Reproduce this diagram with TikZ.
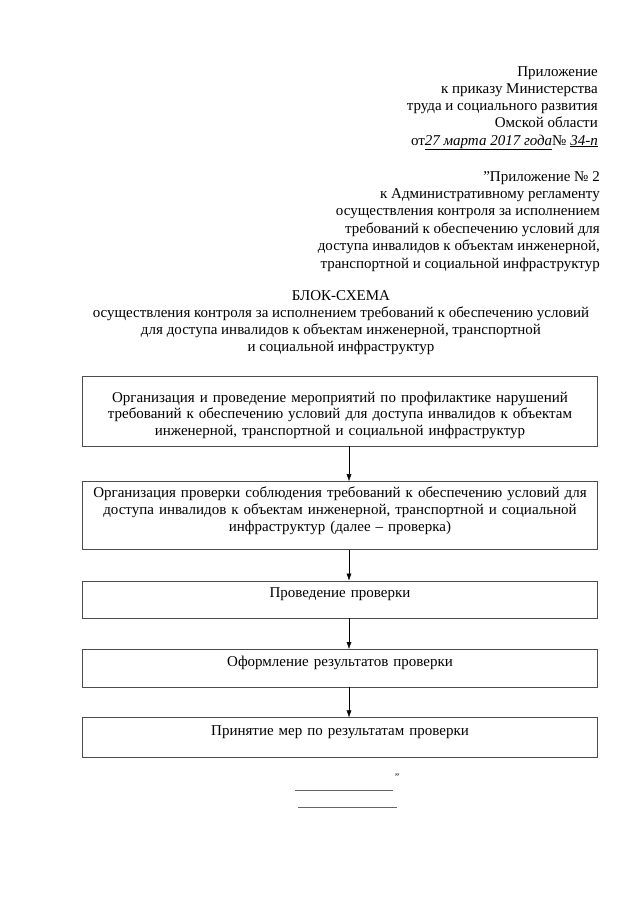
\documentclass[tikz,border=0pt]{standalone}
\usepackage{fontspec}
\setmainfont{Liberation Serif}
\usetikzlibrary{arrows.meta, positioning}
\tikzset{
    >=Latex,
    font=\fontsize{15}{17}\selectfont,
    doc_text/.style={
        inner sep=0pt,
        align=right,
        anchor=base east
    },
    doc_title/.style={
        inner sep=0pt,
        align=center,
        anchor=base
    },
    flow_box/.style={
        rectangle,
        draw=black!70,
        thin,
        minimum width=515pt,
        text width=508pt,
        align=center,
        inner sep=2pt
    },
    flow_box_top/.style={
        flow_box,
        execute at end node={\par\vspace{10pt}}
    },
    flow_arrow/.style={
        -{Latex[length=7pt,width=5pt]},
        thin
    }
}

\begin{document}
\begin{tikzpicture}[x=1pt, y=-1pt]
\useasboundingbox (0,0) rectangle (640,905);

% --- Header ---
\node[doc_text] (Order) at (598,127)
  {Приложение\\
   к приказу Министерства\\
   труда и социального развития\\
   Омской области};
\node[doc_text] (OrderDate) at (598,145)
  {от\textit{\underline{27 марта 2017 года}}№ \textit{\underline{34-п}}};

\node[doc_text, font=\fontsize{15}{17.4}\selectfont] (Annex) at (600,268)
  {"Приложение № 2\\
   к Административному регламенту\\
   осуществления контроля за исполнением\\
   требований к обеспечению условий для\\
   доступа инвалидов к объектам инженерной,\\
   транспортной и социальной инфраструктур};

% --- Title ---
\node[doc_title, font=\fontsize{15}{16.7}\selectfont] (Title) at (341,351)
  {БЛОК-СХЕМА\\
   осуществления контроля за исполнением требований к обеспечению условий\\
   для доступа инвалидов к объектам инженерной, транспортной\\
   и социальной инфраструктур};

% --- Flow ---
\node[flow_box, minimum height=70pt, font=\fontsize{15}{16.5}\selectfont,
      execute at end node={\par\vspace{-8pt}}] (Prevention) at (340,411)
  {Организация и проведение мероприятий по профилактике нарушений\\
   требований к обеспечению условий для доступа инвалидов к объектам\\
   инженерной, транспортной и социальной инфраструктур};
\node[flow_box_top, minimum height=68pt, below=35pt of Prevention] (Organize)
  {Организация проверки соблюдения требований к обеспечению условий для\\
   доступа инвалидов к объектам инженерной, транспортной и социальной\\
   инфраструктур (далее -- проверка)};
\node[flow_box_top, minimum height=37pt, below=31pt of Organize] (Conduct)
  {Проведение проверки};
\node[flow_box_top, minimum height=38pt, below=31pt of Conduct] (Results)
  {Оформление результатов проверки};
\node[flow_box_top, minimum height=40pt, below=30pt of Results] (Measures)
  {Принятие мер по результатам проверки};

\draw[flow_arrow] ([xshift=9pt]Prevention.south) -- ([xshift=9pt]Organize.north);
\draw[flow_arrow] ([xshift=9pt]Organize.south) -- ([xshift=9pt]Conduct.north);
\draw[flow_arrow] ([xshift=9pt]Conduct.south) -- ([xshift=9pt]Results.north);
\draw[flow_arrow] ([xshift=9pt]Results.south) -- ([xshift=9pt]Measures.north);

% --- Closing ---
\node[inner sep=0pt, font=\fontsize{10}{12}\selectfont] (Quote) at (397,777) {"};
\coordinate (SignA) at (295,790);
\coordinate (SignB) at (298,807);
\draw[black!60, thin] (SignA) -- ++(98,0);
\draw[black!60, thin] (SignB) -- ++(99,0);

\end{tikzpicture}
\end{document}
